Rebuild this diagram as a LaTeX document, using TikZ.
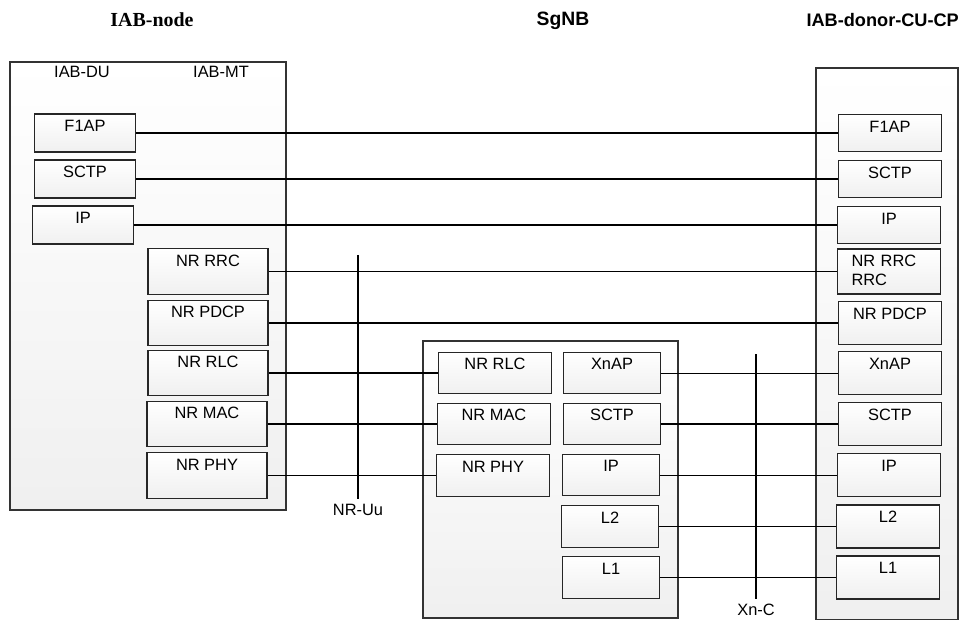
\documentclass[tikz,border=0pt]{standalone}
\usepackage{fontspec}
\setmainfont{Liberation Serif}
\setsansfont{Liberation Sans}
\usetikzlibrary{fit}

\begin{document}
\begin{tikzpicture}[x=0.03cm, y=-0.03cm,
  every node/.style={font=\sffamily\fontsize{14}{16}\selectfont},
  layer/.style={draw=black!85, line width=0.9pt, top color=white, bottom color=gray!12,
    inner xsep=0pt, inner ysep=5pt, text height=10pt},
  du/.style={layer, minimum width=86.2pt, text depth=12.4pt},
  mt/.style={layer, minimum width=102.4pt, text depth=19.2pt},
  sgl/.style={layer, minimum width=96.4pt, text depth=15.8pt},
  sgr/.style={layer, minimum width=82.7pt, text depth=15.8pt},
  cpa/.style={layer, minimum width=88.7pt, text depth=11.6pt},
  cpb/.style={layer, minimum width=88.7pt, text depth=16.7pt},
  group/.style={draw=black!80, line width=0.9pt, top color=white, bottom color=gray!12, inner sep=0pt},
  title/.style={font=\sffamily\bfseries\fontsize{15.5}{18}\selectfont, anchor=base},
  heavy/.style={line width=1.4pt},
  light/.style={line width=0.7pt},
  iface/.style={inner xsep=1pt, inner ysep=4pt}]
  \useasboundingbox (0,0) rectangle (967,621);

  % titles
  \node[title, font=\rmfamily\bfseries\fontsize{17}{20}\selectfont] (tnode) at (152,27) {IAB-node};
  \node[title, font=\sffamily\bfseries\fontsize{16.5}{18}\selectfont] (tsgnb) at (563,26) {SgNB};
  \node[title, anchor=base east] (tdonor) at (963,27) {IAB-donor-CU-CP};

  % containers
  \node[group, fit={(10,62) (286,510)}] (iabnode) {};
  \node[group, fit={(423,341) (678,618)}] (sgnb) {};
  \node[group, fit={(816,68) (958,619.5)}] (donor) {};

  % IAB-node
  \node[anchor=base] (dulabel) at (82,78) {IAB-DU};
  \node[anchor=base] (mtlabel) at (221,78) {IAB-MT};
  \node[du] (duf1ap) at (85,133) {F1AP};
  \node[du] (dusctp) at (85,179) {SCTP};
  \node[du] (duip) at (83,225) {IP};
  \node[mt] (mtrrc) at (208,271.5) {NR RRC};
  \node[mt] (mtpdcp) at (208,323) {NR PDCP};
  \node[mt] (mtrlc) at (208,373) {NR RLC};
  \node[mt] (mtmac) at (207,424) {NR MAC};
  \node[mt] (mtphy) at (207,475.5) {NR PHY};

  % SgNB
  \node[sgl] (sgrlc) at (495,373) {NR RLC};
  \node[sgl] (sgmac) at (494,424) {NR MAC};
  \node[sgl] (sgphy) at (493,475.5) {NR PHY};
  \node[sgr] (sgxnap) at (612,373) {XnAP};
  \node[sgr] (sgsctp) at (612,424) {SCTP};
  \node[sgr] (sgip) at (611,475) {IP};
  \node[sgr] (sgl2) at (610,526.5) {L2};
  \node[sgr] (sgl1) at (611,577.5) {L1};

  % IAB-donor-CU-CP
  \node[cpa] (cpf1ap) at (890,133) {F1AP};
  \node[cpa] (cpsctp) at (890,179) {SCTP};
  \node[cpa] (cpip) at (889,225) {IP};
  \node[cpb, text depth=18.4pt, text width=64pt, align=left] (cprrc) at (889,271.5) {NR RRC\\RRC};
  \node[cpb] (cppdcp) at (890,323) {NR PDCP};
  \node[cpb] (cpxnap) at (890,373) {XnAP};
  \node[cpb] (cpsctpx) at (890,424) {SCTP};
  \node[cpb] (cpipx) at (889,475) {IP};
  \node[cpb] (cpl2) at (888,526.5) {L2};
  \node[cpb] (cpl1) at (888,577.5) {L1};

  % interfaces
  \coordinate (uutop) at (358,255);
  \node[iface] (uu) at (358,510) {NR-Uu};
  \coordinate (xntop) at (756,354);
  \node[iface] (xn) at (756,610) {Xn-C};
  \draw[heavy] (uutop) -- (uu);
  \draw[heavy] (xntop) -- (xn);

  % peer links
  \draw[heavy] (duf1ap) -- (cpf1ap);
  \draw[heavy] (dusctp) -- (cpsctp);
  \draw[heavy] (duip) -- (cpip);
  \draw[light] (mtrrc) -- (cprrc);
  \draw[heavy] (mtpdcp) -- (cppdcp);
  \draw[heavy] (mtrlc) -- (sgrlc);
  \draw[heavy] (mtmac) -- (sgmac);
  \draw[heavy] (mtphy) -- (sgphy);
  \draw[light] (sgxnap) -- (cpxnap);
  \draw[heavy] (sgsctp) -- (cpsctpx);
  \draw[light] (sgip) -- (cpipx);
  \draw[light] (sgl2) -- (cpl2);
  \draw[light] (sgl1) -- (cpl1);
\end{tikzpicture}
\end{document}
